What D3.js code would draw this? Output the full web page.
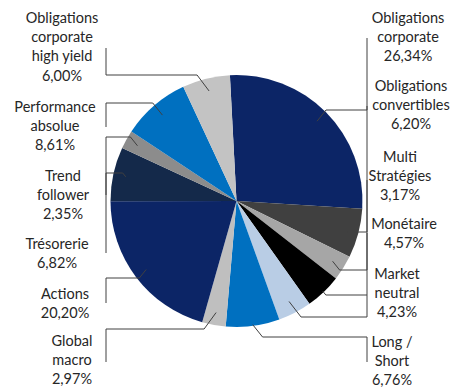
<!DOCTYPE html>
<html>
<head>
<meta charset="utf-8">
<script src="https://cdn.jsdelivr.net/npm/d3@7"></script>
<style>
  html, body { margin:0; padding:0; background:#fff; }
  #canvas { width:450px; height:388px; }
</style>
</head>
<body>
<div id="canvas" class="canvas"></div>
<script>
// --- data, clockwise from the top
var categories = ["Obligations corporate", "Obligations convertibles", "Multi Stratégies",
                  "Monétaire", "Market neutral", "Long / Short", "Global macro", "Actions",
                  "Trésorerie", "Trend follower", "Performance absolue",
                  "Obligations corporate high yield"];
var values = [26.34, 6.20, 3.17, 4.57, 4.23, 6.76, 2.97, 20.20, 6.82, 2.35, 8.61, 6.00];
var valueLabels = ["26,34%", "6,20%", "3,17%", "4,57%", "4,23%", "6,76%",
                   "2,97%", "20,20%", "6,82%", "2,35%", "8,61%", "6,00%"];

// --- styles / layout
var colors = ["#0c2566", "#404040", "#a6a6a6", "#000000", "#b9cde5", "#0070c0",
              "#bfbfbf", "#0c2566", "#14294a", "#8c8c8c", "#0070c0", "#c3c3c3"];

// text lines, label centre x, first line y, leader bend y, leader end y
var labelLines = [["Obligations", "corporate"], ["Obligations", "convertibles"], ["Multi", "Stratégies"],
                  ["Monétaire"], ["Market", "neutral"], ["Long /", "Short"], ["Global", "macro"],
                  ["Actions"], ["Trésorerie"], ["Trend", "follower"], ["Performance", "absolue"],
                  ["Obligations", "corporate", "high yield"]];
var labelX = [408, 411, 400, 404, 397, 392, 72, 65, 57, 63, 55, 62];
var labelY = [18, 86, 157, 224, 274, 342, 341, 294, 244, 176, 107, 18];
var bendY  = [110, 232, 270, 295, 317, 337, 329, 278, 173, 137, 103, 75];
var endY   = [38, 106, 180, 233, 295, 362, 362, 303, 253, 195, 127, 48];
var anchorR = [0.9, 0.9, 0.9, 0.99, 0.9, 0.99, 0.9, 0.9, 0.9, 0.9, 0.9, 0.9];

var W = 450, H = 388;
var cx = 236.5, cy = 201, R = 126;
var lineH = 19.2;
var startA = -3 * Math.PI / 180;

var svg = d3.select('.canvas')
  .append('svg')
  .attr('width', W)
  .attr('height', H);

var plot = svg.append('g')
  .attr('transform', 'translate(' + cx + ',' + cy + ')');

var pie = d3.pie()
  .sort(null)
  .value(function(d){ return d; })
  .startAngle(startA)
  .endAngle(startA + 2 * Math.PI);

var arcs = pie(values);

var arc = d3.arc()
  .innerRadius(0)
  .outerRadius(R);

plot.selectAll('path.slice')
  .data(arcs)
  .enter()
  .append('path')
  .attr('class', 'slice')
  .attr('d', arc)
  .attr('fill', function(d,i){ return colors[i]; });

// --- leader lines
var leader = d3.line();
arcs.forEach(function(d, i){
  var a = (d.startAngle + d.endAngle) / 2;
  var r = R * anchorR[i];
  var ax = cx + r * Math.sin(a),
      ay = cy - r * Math.cos(a);
  var right = ax > cx;
  var side = right ? 1 : -1;
  var edgeX = right ? 367 : 106;
  var bx = ax + side * Math.min(12, Math.abs(bendY[i] - ay) * 0.8);
  var pts = [[ax, ay], [bx, bendY[i]], [edgeX, bendY[i]], [edgeX, endY[i]]];
  svg.append('path')
    .attr('d', leader(pts))
    .attr('fill', 'none')
    .attr('stroke', '#404040')
    .attr('stroke-width', 1);
});

// --- labels
categories.forEach(function(c, i){
  var lines = labelLines[i].concat([valueLabels[i]]);
  var t = svg.append('text')
    .attr('x', labelX[i])
    .attr('y', labelY[i])
    .attr('text-anchor', 'middle')
    .attr('font-family', 'Lato, "Open Sans", sans-serif')
    .attr('font-size', '14.5px')
    .attr('fill', '#262626');
  lines.forEach(function(s, j){
    t.append('tspan')
      .attr('x', labelX[i])
      .attr('y', labelY[i] + j * lineH)
      .attr('dy', '0.35em')
      .text(s);
  });
});
</script>
</body>
</html>
